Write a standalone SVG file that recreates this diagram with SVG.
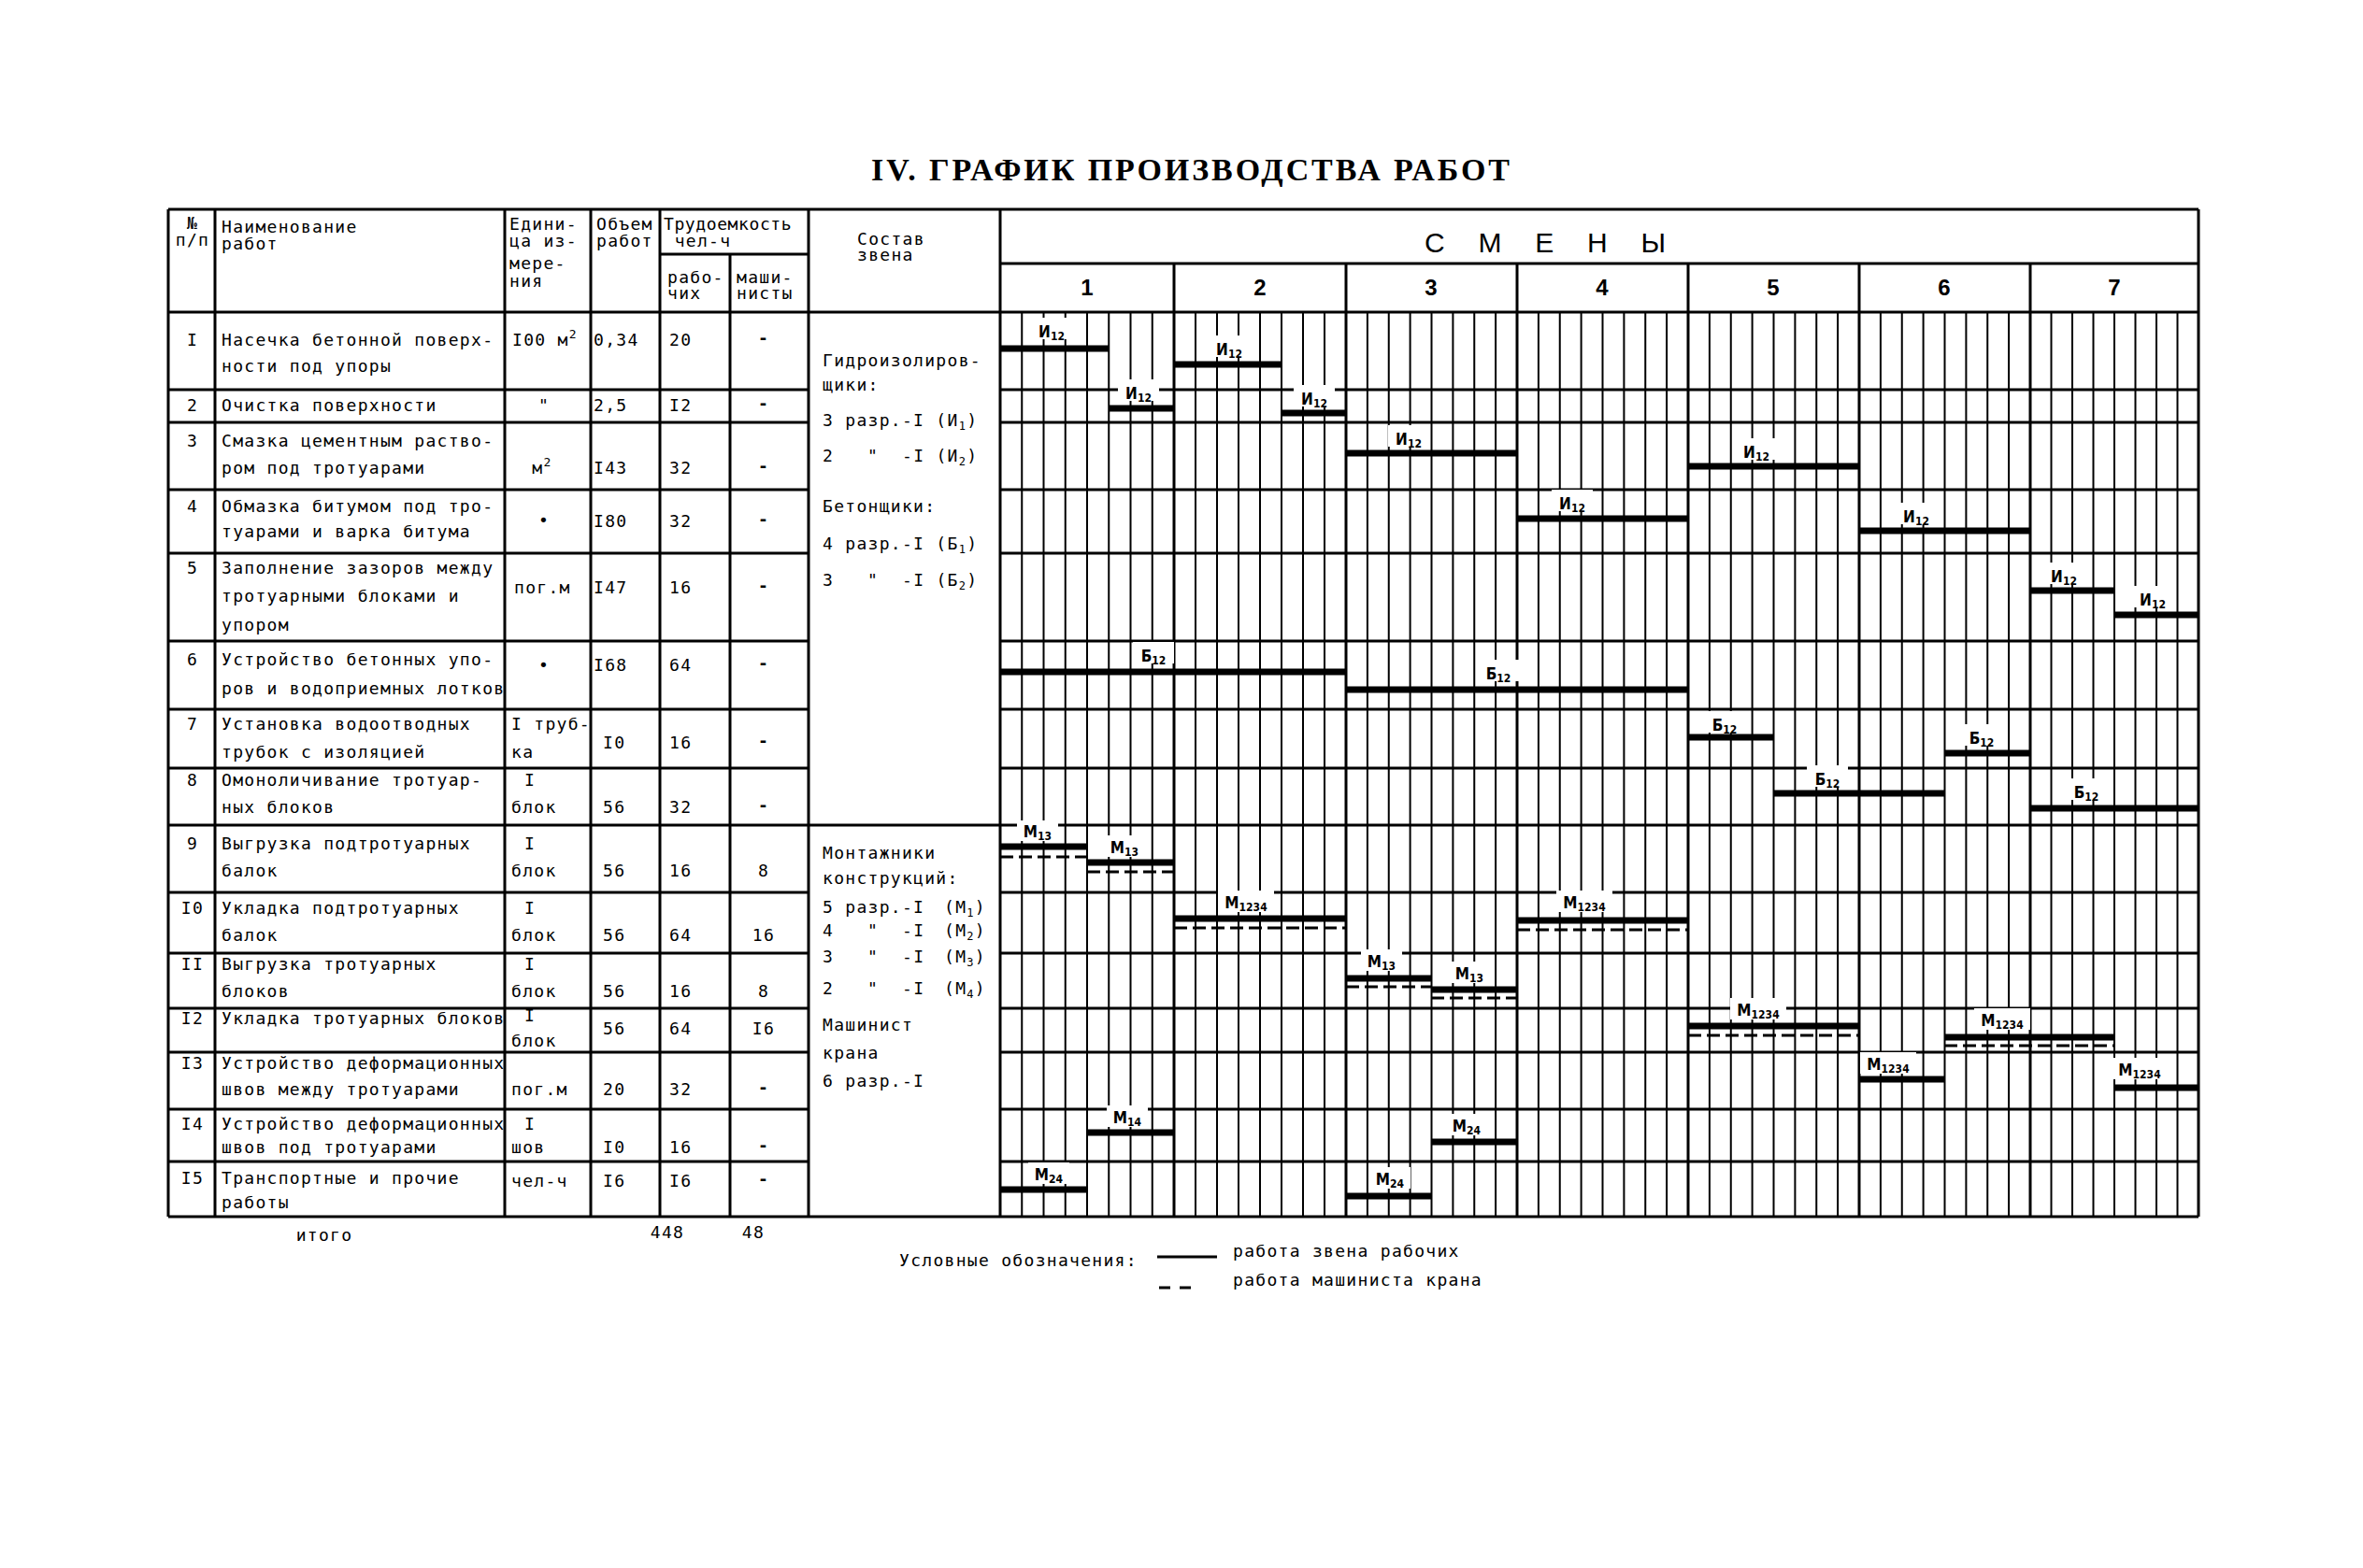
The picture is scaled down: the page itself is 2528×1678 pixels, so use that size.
<svg xmlns="http://www.w3.org/2000/svg" width="2528" height="1678" viewBox="0 0 2528 1678">
<style>
.g{stroke:#000;stroke-width:3;fill:none}
.s{stroke:#000;stroke-width:2;fill:none}
.bar{stroke:#000;stroke-width:7}
.dash{stroke:#000;stroke-width:3;stroke-dasharray:14 6}
.lb{fill:#fff}
.t{font-family:"DejaVu Sans Mono","Liberation Mono",monospace;font-size:18px;letter-spacing:1.3px;fill:#000}
.c{text-anchor:middle}
.b{font-weight:bold}
.l{font-family:"DejaVu Sans Condensed","DejaVu Sans",sans-serif;font-weight:bold;font-size:17px;text-anchor:middle;fill:#000}
.sb{font-size:12px}
.sup{font-size:13px}
</style>
<rect width="2528" height="1678" fill="#fff"/>

<g id="title">
<text x="932" y="193" font-family="Liberation Serif" font-weight="bold" font-size="34" textLength="683" lengthAdjust="spacing">IV. ГРАФИК ПРОИЗВОДСТВА РАБОТ</text>
</g>

<g id="grid">
<path class="g" d="M180 224H2352M706 272H865M1070 282H2352M180 334H2352
M180 417H865M180 452H865M180 524H865M180 592H865M180 686H865M180 759H865M180 822H865M180 883H2352M180 955H865M180 1020H865M180 1079H865M180 1126H865M180 1187H865M180 1243H865
M1070 417H2352M1070 452H2352M1070 524H2352M1070 592H2352M1070 686H2352M1070 759H2352M1070 822H2352M1070 955H2352M1070 1020H2352M1070 1079H2352M1070 1126H2352M1070 1187H2352M1070 1243H2352
M180 1302H2352
M180 224V1302M230 224V1302M540 224V1302M632 224V1302M706 224V1302M781 272V1302M865 224V1302M1070 224V1302
M1256 282V1302M1440 282V1302M1623 282V1302M1806 282V1302M1989 282V1302M2172 282V1302M2352 224V1302"/>
<path class="s" d="M1093.25 334V1302M1116.5 334V1302M1139.75 334V1302M1163 334V1302M1186.25 334V1302M1209.5 334V1302M1232.75 334V1302
M1279 334V1302M1302 334V1302M1325 334V1302M1348 334V1302M1371 334V1302M1394 334V1302M1417 334V1302
M1462.9 334V1302M1485.75 334V1302M1508.6 334V1302M1531.5 334V1302M1554.4 334V1302M1577.25 334V1302M1600.1 334V1302
M1645.9 334V1302M1668.75 334V1302M1691.6 334V1302M1714.5 334V1302M1737.4 334V1302M1760.25 334V1302M1783.1 334V1302
M1828.9 334V1302M1851.75 334V1302M1874.6 334V1302M1897.5 334V1302M1920.4 334V1302M1943.25 334V1302M1966.1 334V1302
M2011.9 334V1302M2034.75 334V1302M2057.6 334V1302M2080.5 334V1302M2103.4 334V1302M2126.25 334V1302M2149.1 334V1302
M2194.5 334V1302M2217 334V1302M2239.5 334V1302M2262 334V1302M2284.5 334V1302M2307 334V1302M2329.5 334V1302"/>
</g>

<g id="header" class="t">
<text x="206" y="245" class="c">№</text>
<text x="206" y="263" class="c">п/п</text>
<text x="237" y="249">Наименование</text>
<text x="237" y="267">работ</text>
<text x="545" y="246">Едини-</text>
<text x="545" y="264">ца из-</text>
<text x="545" y="288">мере-</text>
<text x="545" y="307">ния</text>
<text x="638" y="246">Объем</text>
<text x="638" y="264">работ</text>
<text x="710" y="246" letter-spacing="0.6">Трудоемкость</text>
<text x="752" y="264" class="c">чел-ч</text>
<text x="714" y="303">рабо-</text>
<text x="714" y="320">чих</text>
<text x="788" y="303">маши-</text>
<text x="788" y="320">нисты</text>
<text x="917" y="262">Состав</text>
<text x="917" y="279">звена</text>
<text x="1524" y="270" font-family="Liberation Sans" font-size="30" letter-spacing="0" textLength="258" lengthAdjust="spacing">С М Е Н Ы</text>
<g font-family="Liberation Sans" font-weight="bold" font-size="24" text-anchor="middle" letter-spacing="0">
<text x="1163" y="316">1</text>
<text x="1348" y="316">2</text>
<text x="1531" y="316">3</text>
<text x="1714" y="316">4</text>
<text x="1897" y="316">5</text>
<text x="2080" y="316">6</text>
<text x="2262" y="316">7</text>
</g>
</g>

<g id="row-1" class="t">
<text x="206" y="370" class="c">I</text>
<text x="237" y="370">Насечка бетонной поверх-</text>
<text x="237" y="398">ности под упоры</text>
<text x="548" y="370">I00 м<tspan class="sup" dy="-8">2</tspan></text>
<text x="635" y="370">0,34</text>
<text x="716" y="370">20</text>
<text x="817" y="368" class="c b">-</text>
</g>
<g id="row-2" class="t">
<text x="206" y="440" class="c">2</text>
<text x="237" y="440">Очистка поверхности</text>
<text x="582" y="440" class="c">"</text>
<text x="635" y="440">2,5</text>
<text x="716" y="440">I2</text>
<text x="817" y="438" class="c b">-</text>
</g>
<g id="row-3" class="t">
<text x="206" y="478" class="c">3</text>
<text x="237" y="478">Смазка цементным раство-</text>
<text x="237" y="507">ром под тротуарами</text>
<text x="580" y="507" class="c">м<tspan class="sup" dy="-8">2</tspan></text>
<text x="635" y="507">I43</text>
<text x="716" y="507">32</text>
<text x="817" y="505" class="c b">-</text>
</g>
<g id="row-4" class="t">
<text x="206" y="548" class="c">4</text>
<text x="237" y="548">Обмазка битумом под тро-</text>
<text x="237" y="575">туарами и варка битума</text>
<text x="582" y="563" class="c">•</text>
<text x="635" y="564">I80</text>
<text x="716" y="564">32</text>
<text x="817" y="562" class="c b">-</text>
</g>
<g id="row-5" class="t">
<text x="206" y="614" class="c">5</text>
<text x="237" y="614">Заполнение зазоров между</text>
<text x="237" y="644">тротуарными блоками и</text>
<text x="237" y="675">упором</text>
<text x="550" y="635">пог.м</text>
<text x="635" y="635">I47</text>
<text x="716" y="635">16</text>
<text x="817" y="633" class="c b">-</text>
</g>
<g id="row-6" class="t">
<text x="206" y="712" class="c">6</text>
<text x="237" y="712">Устройство бетонных упо-</text>
<text x="237" y="743">ров и водоприемных лотков</text>
<text x="582" y="718" class="c">•</text>
<text x="635" y="718">I68</text>
<text x="716" y="718">64</text>
<text x="817" y="716" class="c b">-</text>
</g>
<g id="row-7" class="t">
<text x="206" y="781" class="c">7</text>
<text x="237" y="781">Установка водоотводных</text>
<text x="237" y="811">трубок с изоляцией</text>
<text x="547" y="781">I труб-</text>
<text x="547" y="811">ка</text>
<text x="645" y="801">I0</text>
<text x="716" y="801">16</text>
<text x="817" y="799" class="c b">-</text>
</g>
<g id="row-8" class="t">
<text x="206" y="841" class="c">8</text>
<text x="237" y="841">Омоноличивание тротуар-</text>
<text x="237" y="870">ных блоков</text>
<text x="561" y="841">I</text>
<text x="547" y="870">блок</text>
<text x="645" y="870">56</text>
<text x="716" y="870">32</text>
<text x="817" y="868" class="c b">-</text>
</g>
<g id="row-9" class="t">
<text x="206" y="909" class="c">9</text>
<text x="237" y="909">Выгрузка подтротуарных</text>
<text x="237" y="938">балок</text>
<text x="561" y="909">I</text>
<text x="547" y="938">блок</text>
<text x="645" y="938">56</text>
<text x="716" y="938">16</text>
<text x="817" y="938" class="c">8</text>
</g>
<g id="row-10" class="t">
<text x="206" y="978" class="c">I0</text>
<text x="237" y="978">Укладка подтротуарных</text>
<text x="237" y="1007">балок</text>
<text x="561" y="978">I</text>
<text x="547" y="1007">блок</text>
<text x="645" y="1007">56</text>
<text x="716" y="1007">64</text>
<text x="817" y="1007" class="c">16</text>
</g>
<g id="row-11" class="t">
<text x="206" y="1038" class="c">II</text>
<text x="237" y="1038">Выгрузка тротуарных</text>
<text x="237" y="1067">блоков</text>
<text x="561" y="1038">I</text>
<text x="547" y="1067">блок</text>
<text x="645" y="1067">56</text>
<text x="716" y="1067">16</text>
<text x="817" y="1067" class="c">8</text>
</g>
<g id="row-12" class="t">
<text x="206" y="1096" class="c">I2</text>
<text x="237" y="1096">Укладка тротуарных блоков</text>
<text x="561" y="1093">I</text>
<text x="547" y="1120">блок</text>
<text x="645" y="1107">56</text>
<text x="716" y="1107">64</text>
<text x="817" y="1107" class="c">I6</text>
</g>
<g id="row-13" class="t">
<text x="206" y="1144" class="c">I3</text>
<text x="237" y="1144">Устройство деформационных</text>
<text x="237" y="1172">швов между тротуарами</text>
<text x="547" y="1172">пог.м</text>
<text x="645" y="1172">20</text>
<text x="716" y="1172">32</text>
<text x="817" y="1170" class="c b">-</text>
</g>
<g id="row-14" class="t">
<text x="206" y="1209" class="c">I4</text>
<text x="237" y="1209">Устройство деформационных</text>
<text x="237" y="1234">швов под тротуарами</text>
<text x="561" y="1209">I</text>
<text x="547" y="1234">шов</text>
<text x="645" y="1234">I0</text>
<text x="716" y="1234">16</text>
<text x="817" y="1232" class="c b">-</text>
</g>
<g id="row-15" class="t">
<text x="206" y="1267" class="c">I5</text>
<text x="237" y="1267">Транспортные и прочие</text>
<text x="237" y="1293">работы</text>
<text x="547" y="1270">чел-ч</text>
<text x="645" y="1270">I6</text>
<text x="716" y="1270">I6</text>
<text x="817" y="1268" class="c b">-</text>
</g>
<g id="totals" class="t">
<text x="347" y="1328" class="c">итого</text>
<text x="714" y="1325" class="c">448</text>
<text x="806" y="1325" class="c">48</text>
</g>

<g id="crews" class="t">
<text x="880" y="392">Гидроизолиров-</text>
<text x="880" y="418">щики:</text>
<text x="880" y="456">3 разр.-I (И<tspan class="sb" dy="4">1</tspan><tspan dy="-4">)</tspan></text>
<text x="880" y="494">2<tspan x="928">"</tspan><tspan x="965">-I (И</tspan><tspan class="sb" dy="4">2</tspan><tspan dy="-4">)</tspan></text>
<text x="880" y="548">Бетонщики:</text>
<text x="880" y="588">4 разр.-I (Б<tspan class="sb" dy="4">1</tspan><tspan dy="-4">)</tspan></text>
<text x="880" y="627">3<tspan x="928">"</tspan><tspan x="965">-I (Б</tspan><tspan class="sb" dy="4">2</tspan><tspan dy="-4">)</tspan></text>
<text x="880" y="919">Монтажники</text>
<text x="880" y="946">конструкций:</text>
<text x="880" y="977">5 разр.-I<tspan x="1010">(М</tspan><tspan class="sb" dy="4">1</tspan><tspan dy="-4">)</tspan></text>
<text x="880" y="1002">4<tspan x="928">"</tspan><tspan x="965">-I</tspan><tspan x="1010">(М</tspan><tspan class="sb" dy="4">2</tspan><tspan dy="-4">)</tspan></text>
<text x="880" y="1030">3<tspan x="928">"</tspan><tspan x="965">-I</tspan><tspan x="1010">(М</tspan><tspan class="sb" dy="4">3</tspan><tspan dy="-4">)</tspan></text>
<text x="880" y="1064">2<tspan x="928">"</tspan><tspan x="965">-I</tspan><tspan x="1010">(М</tspan><tspan class="sb" dy="4">4</tspan><tspan dy="-4">)</tspan></text>
<text x="880" y="1103">Машинист</text>
<text x="880" y="1133">крана</text>
<text x="880" y="1163">6 разр.-I</text>
</g>

<g id="label-boxes" class="lb">
<rect x="1103" y="340" width="44" height="23"/>
<rect x="1293" y="359" width="44" height="23"/>
<rect x="1196" y="406" width="44" height="23"/>
<rect x="1384" y="412" width="44" height="23"/>
<rect x="1485" y="455" width="44" height="23"/>
<rect x="1857" y="469" width="44" height="23"/>
<rect x="1660" y="524" width="44" height="23"/>
<rect x="2028" y="538" width="44" height="23"/>
<rect x="2186" y="602" width="44" height="23"/>
<rect x="2281" y="627" width="44" height="23"/>
<rect x="1212" y="687" width="44" height="23"/>
<rect x="1581" y="706" width="44" height="23"/>
<rect x="1823" y="761" width="44" height="23"/>
<rect x="2098" y="775" width="44" height="23"/>
<rect x="1933" y="819" width="44" height="23"/>
<rect x="2210" y="833" width="44" height="23"/>
<rect x="1088" y="878" width="44" height="22"/>
<rect x="1181" y="894" width="44" height="23"/>
<rect x="1303" y="953" width="60" height="23"/>
<rect x="1665" y="953" width="60" height="23"/>
<rect x="1456" y="1016" width="44" height="23"/>
<rect x="1550" y="1029" width="44" height="23"/>
<rect x="1851" y="1068" width="60" height="23"/>
<rect x="2112" y="1079" width="60" height="23"/>
<rect x="1990" y="1126" width="60" height="23"/>
<rect x="2259" y="1132" width="60" height="23"/>
<rect x="1184" y="1183" width="44" height="23"/>
<rect x="1547" y="1192" width="44" height="23"/>
<rect x="1100" y="1244" width="44" height="23"/>
<rect x="1465" y="1249" width="44" height="23"/>
</g>

<g id="bars">
<path class="bar" d="M1070 373H1186M1256 390H1371M1186 437H1256M1371 442H1440M1440 485H1623M1806 499H1989M1623 555H1806M1989 568H2172M2172 632H2262M2262 658H2352M1070 719H1440M1440 738H1806M1806 789H1897M2080 806H2172M1897 849H2080M2172 865H2352M1070 906H1163M1163 923H1256M1256 983H1440M1623 985H1806M1440 1047H1531M1531 1059H1623M1806 1098H1989M2080 1110H2262M1989 1155H2080M2262 1164H2352M1163 1212H1256M1531 1222H1623M1070 1273H1163M1440 1280H1531"/>
<path class="dash" d="M1070 917H1163M1163 933H1256M1256 993H1440M1623 995H1806M1440 1056H1531M1531 1068H1623M1806 1108H1989M2080 1119H2262"/>
</g>

<g id="bar-labels">
<text class="l" x="1125" y="361">И<tspan class="sb" dy="3">12</tspan></text>
<text class="l" x="1315" y="380">И<tspan class="sb" dy="3">12</tspan></text>
<text class="l" x="1218" y="427">И<tspan class="sb" dy="3">12</tspan></text>
<text class="l" x="1406" y="433">И<tspan class="sb" dy="3">12</tspan></text>
<text class="l" x="1507" y="476">И<tspan class="sb" dy="3">12</tspan></text>
<text class="l" x="1879" y="490">И<tspan class="sb" dy="3">12</tspan></text>
<text class="l" x="1682" y="545">И<tspan class="sb" dy="3">12</tspan></text>
<text class="l" x="2050" y="559">И<tspan class="sb" dy="3">12</tspan></text>
<text class="l" x="2208" y="623">И<tspan class="sb" dy="3">12</tspan></text>
<text class="l" x="2303" y="648">И<tspan class="sb" dy="3">12</tspan></text>
<text class="l" x="1234" y="708">Б<tspan class="sb" dy="3">12</tspan></text>
<text class="l" x="1603" y="727">Б<tspan class="sb" dy="3">12</tspan></text>
<text class="l" x="1845" y="782">Б<tspan class="sb" dy="3">12</tspan></text>
<text class="l" x="2120" y="796">Б<tspan class="sb" dy="3">12</tspan></text>
<text class="l" x="1955" y="840">Б<tspan class="sb" dy="3">12</tspan></text>
<text class="l" x="2232" y="854">Б<tspan class="sb" dy="3">12</tspan></text>
<text class="l" x="1110" y="896">М<tspan class="sb" dy="3">13</tspan></text>
<text class="l" x="1203" y="913">М<tspan class="sb" dy="3">13</tspan></text>
<text class="l" x="1333" y="972">М<tspan class="sb" dy="3">1234</tspan></text>
<text class="l" x="1695" y="972">М<tspan class="sb" dy="3">1234</tspan></text>
<text class="l" x="1478" y="1035">М<tspan class="sb" dy="3">13</tspan></text>
<text class="l" x="1572" y="1048">М<tspan class="sb" dy="3">13</tspan></text>
<text class="l" x="1881" y="1087">М<tspan class="sb" dy="3">1234</tspan></text>
<text class="l" x="2142" y="1098">М<tspan class="sb" dy="3">1234</tspan></text>
<text class="l" x="2020" y="1145">М<tspan class="sb" dy="3">1234</tspan></text>
<text class="l" x="2289" y="1151">М<tspan class="sb" dy="3">1234</tspan></text>
<text class="l" x="1206" y="1202">М<tspan class="sb" dy="3">14</tspan></text>
<text class="l" x="1569" y="1211">М<tspan class="sb" dy="3">24</tspan></text>
<text class="l" x="1122" y="1263">М<tspan class="sb" dy="3">24</tspan></text>
<text class="l" x="1487" y="1268">М<tspan class="sb" dy="3">24</tspan></text>
</g>

<g id="legend" class="t">
<text x="962" y="1355">Условные обозначения:</text>
<path class="g" d="M1238 1345H1302"/>
<path class="g" d="M1240 1378H1252M1262 1378H1274"/>
<text x="1319" y="1345">работа звена рабочих</text>
<text x="1319" y="1376">работа машиниста крана</text>
</g>
</svg>
